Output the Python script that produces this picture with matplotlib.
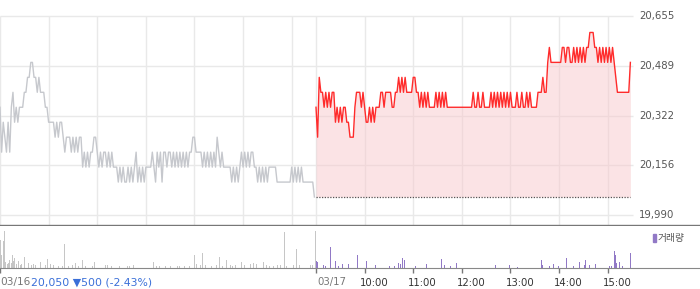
import numpy as np
import matplotlib.pyplot as plt

plt.rcParams['font.family'] = ['DejaVu Sans', 'Noto Sans CJK KR']

# price ticks (right side)
price_ticks = [20655, 20489, 20322, 20156, 19990]
prev_close = 20050

# 03/16 prices, one value every 2 minutes from 09:00
day1_prices = [
    20350, 20200, 20300, 20250, 20200, 20300, 20200, 20350,
    20400, 20300, 20350, 20300, 20350,
    20350, 20350, 20400, 20400, 20450, 20450,
    20500, 20500, 20450, 20450,
    20400, 20450, 20400, 20400, 20400, 20350, 20350, 20300, 20300, 20300, 20300,
    20250, 20300, 20250, 20300, 20300, 20250,
    20200, 20250, 20250, 20250, 20200, 20250, 20200, 20250, 20200, 20250, 20250,
    20150, 20200, 20150, 20200, 20150, 20200, 20200, 20250, 20250, 20200, 20150, 20200,
    20150, 20200, 20200, 20150, 20200, 20150,
    20200,
    20150, 20150, 20150,
    20100, 20150, 20100, 20150, 20100, 20100, 20150, 20100, 20150, 20100, 20150, 20200,
    20100, 20150, 20100, 20150, 20100, 20150, 20150,
    20150, 20150,
    20200, 20150, 20100, 20200, 20150, 20200, 20100,
    20200, 20200, 20150, 20200, 20200, 20150,
    20200, 20150, 20200, 20150, 20200, 20150, 20200, 20150, 20200, 20150, 20200, 20200,
    20250, 20250,
    20200, 20200, 20200, 20200,
    20150, 20200, 20150, 20200, 20150, 20200, 20150, 20200, 20150,
    20250,
    20200, 20150, 20200, 20150,
    20150, 20150, 20150, 20150,
    20100, 20150, 20100, 20150, 20100, 20150,
    20200, 20150, 20200, 20150, 20200, 20150, 20200, 20200, 20150, 20150,
    20100, 20150, 20100, 20150, 20100, 20150, 20100, 20150,
    20150, 20150, 20150, 20150,
    20100, 20100, 20100, 20100, 20100, 20100, 20100, 20100, 20100,
    20150, 20100, 20150, 20100, 20150, 20100, 20150,
    20100, 20100, 20100, 20100, 20100, 20100, 20100,
    20050,
]

# 03/17 prices, one value every 2 minutes from 09:00
day2_prices = [
    20350, 20250, 20450, 20400,
    20400, 20350, 20400, 20350, 20400, 20350,
    20400, 20400, 20300,
    20350, 20300, 20350, 20300, 20350, 20350,
    20300, 20300, 20250, 20250, 20250, 20350,
    20400, 20400, 20400, 20350, 20400, 20350, 20300, 20300,
    20350, 20300, 20350, 20300, 20350, 20350, 20350,
    20400, 20400, 20350, 20400, 20400, 20400, 20400,
    20350, 20350, 20400, 20400,
    20450, 20400, 20450, 20400, 20450, 20400,
    20400, 20400, 20400, 20450, 20450, 20400, 20400,
    20350, 20400, 20350, 20400, 20350, 20400, 20350,
    20350, 20350, 20350,
    20400, 20350, 20400, 20350, 20400, 20350, 20400,
    20350, 20350, 20350, 20350, 20350, 20350, 20350, 20350,
    20350, 20350, 20350, 20350, 20350, 20350, 20350, 20350,
    20400, 20350, 20350, 20400, 20350, 20350,
    20400, 20350, 20350, 20350, 20350,
    20400, 20350, 20400, 20350, 20400, 20350, 20400, 20350, 20400, 20350, 20400, 20350, 20400,
    20350, 20350, 20350,
    20400, 20350, 20350, 20400, 20350, 20350, 20400, 20350, 20400, 20350, 20350, 20350, 20350,
    20400, 20400, 20400,
    20450, 20400, 20400,
    20500, 20550, 20500,
    20500, 20500, 20500, 20500, 20500, 20500,
    20550, 20550, 20500, 20550, 20550,
    20500, 20500,
    20550, 20500, 20550, 20500, 20550, 20500, 20550, 20500, 20550,
    20550, 20600, 20600, 20600, 20550, 20550,
    20500, 20550, 20500, 20550, 20500, 20550, 20500, 20550, 20500, 20550,
    20500, 20450,
    20400, 20400, 20400, 20400, 20400, 20400, 20400, 20400,
    20500,
]

# volume: minute on the two-day axis (03/16 09:00 = 0, 03/17 09:00 = 390)
day1_vol_min = [0, 1, 2, 4, 6, 7, 9, 10, 12, 14, 15, 17, 18, 20, 23, 25, 27, 30, 32, 35,
                37, 39, 41, 44, 47, 50, 53, 56, 59, 62, 66, 69, 72, 74, 77, 80, 85, 89, 93,
                97, 102, 106, 111, 114, 117, 121, 126, 130, 133, 138, 142, 147, 153, 157,
                160, 165, 169, 174, 179, 184, 189, 193, 197, 200, 204, 210, 216, 219, 222,
                228, 234, 240, 243, 247, 250, 254, 258, 261, 264, 267, 271, 275, 280, 284,
                287, 291, 295, 298, 302, 306, 309, 313, 317, 321, 325, 329, 333, 338, 342,
                346, 351, 354, 358, 362, 366, 370, 374, 379, 383, 386, 389]
day1_vol = [2800, 2800, 1300, 2700, 3700, 600, 400, 500, 800, 500, 1300, 700, 1000, 400,
            700, 300, 400, 1100, 300, 500, 600, 300, 400, 300, 300, 600, 300, 300, 900,
            400, 300, 800, 200, 300, 200, 2400, 200, 300, 500, 200, 800, 200, 400, 200,
            600, 200, 900, 300, 300, 200, 700, 200, 400, 200, 200, 300, 600, 200, 600,
            200, 600, 200, 200, 200, 200, 200, 200, 200, 200, 200, 200, 1300, 400, 300,
            1500, 300, 900, 200, 400, 300, 1100, 200, 800, 300, 200, 300, 300, 600, 300,
            300, 400, 500, 400, 300, 600, 300, 200, 200, 300, 300, 3600, 200, 200, 300,
            1900, 300, 300, 1600, 300, 300, 3700]
day2_vol_min = [390, 391, 392, 395, 399, 402, 408, 414, 418, 423, 430, 437, 441, 448, 452,
                459, 463, 481, 487, 490, 492, 494, 497, 499, 501, 513, 526, 545, 549, 556,
                563, 612, 629, 639, 668, 670, 675, 678, 683, 689, 699, 708, 715, 721, 723,
                728, 735, 743, 748, 752, 755, 758, 760, 761, 764, 765, 768, 778]
day2_vol = [2300, 700, 600, 3100, 300, 200, 2100, 700, 200, 400, 400, 400, 1300, 200, 700,
            300, 300, 200, 200, 2700, 500, 400, 1000, 800, 300, 200, 400, 900, 300, 200,
            500, 300, 300, 100, 800, 300, 3100, 200, 400, 200, 1000, 200, 600, 300, 800,
            300, 400, 300, 200, 200, 200, 1700, 1300, 500, 300, 600, 200, 1500]

day2_ticks = ['03/17', '10:00', '11:00', '12:00', '13:00', '14:00', '15:00']

W, H = 700, 289
px_per_min = 316 / 390
fig = plt.figure(figsize=(W / 100, H / 100), dpi=100)
xmax = W / px_per_min
grid_end = 633 / px_per_min

# price panel
ax = fig.add_axes([0, 64 / H, 1, 225 / H])
scale = (20655 - 19990) / (215 - 16)
ax.set_ylim(19990 - 10 * scale, 20655 + 16 * scale)
ax.set_xlim(0, xmax)

t1 = np.arange(len(day1_prices)) * 2
t2 = 390 + np.arange(len(day2_prices)) * 2

ax.hlines(price_ticks, 0, grid_end, color='#e9e9e9', lw=1, zorder=1)
vgrid = [0] + list(range(60, 361, 60)) + list(range(390, 751, 60))
ax.vlines(vgrid, ax.get_ylim()[0], 20655, color='#e9e9e9', lw=1, zorder=1)

ax.fill_between(t2, prev_close, day2_prices, color='#f8c9cd', alpha=0.5, lw=0, zorder=2)
ax.plot([t2[0], t2[-1]], [prev_close, prev_close], color='#555555', lw=0.9,
        ls=(0, (1, 1.2)), zorder=3)
ax.plot(t1, day1_prices, color='#c6c8cd', lw=1, zorder=3)
ax.plot(t2, day2_prices, color='#ff2b2b', lw=1, zorder=4)

for v in price_ticks:
    ax.text(639.3 / px_per_min, v, f'{v:,}', ha='left', va='center',
            fontsize=7.3, color='#555555')

ax.set_xticks([])
ax.set_yticks([])
for s in ['top', 'left', 'right']:
    ax.spines[s].set_visible(False)
ax.spines['bottom'].set_color('#777777')
ax.spines['bottom'].set_linewidth(1)

# volume panel
axv = fig.add_axes([0, 21 / H, 1, 42 / H])
axv.set_xlim(0, xmax)
axv.set_ylim(0, 4200)
axv.bar(day1_vol_min, day1_vol, width=1.0, color='#c6c6c6', lw=0)
axv.bar(day2_vol_min, day2_vol, width=1.0, color='#9179c6', lw=0)
for s in ['top', 'left', 'right']:
    axv.spines[s].set_visible(False)
axv.spines['bottom'].set_color('#888888')
axv.set_yticks([])
axv.set_xticks([0] + list(range(390, 751, 60)))
axv.set_xticklabels([])
axv.tick_params(axis='x', length=3.5, width=1, color='#777777', direction='out')

# legend
fig.patches.append(plt.Rectangle((652.7 / W, (H - 242) / H), 3.3 / W, 8 / H,
                                 transform=fig.transFigure, color='#9179c6'))
fig.text(658 / W, (H - 238) / H, '거래량', ha='left', va='center', fontsize=7,
         color='#555555')

# bottom labels
ty = (H - 282.5) / H
fig.text(0, ty, '03/16', ha='left', va='center', fontsize=7.6, color='#777777')
fig.text(31 / W, ty, '20,050 \u25bc500 (-2.43%)', ha='left', va='center',
         fontsize=7.8, color='#3a6fd8')
for k, lab in enumerate(day2_ticks):
    x_px = (390 + 60 * k) * px_per_min
    if k == 0:
        fig.text((x_px + 1) / W, ty, lab, ha='left', va='center', fontsize=7.3,
                 color='#777777')
    else:
        fig.text((x_px - 5) / W, ty, lab, ha='left', va='center', fontsize=7.3,
                 color='#333333')

fig.savefig('out.png', dpi=100)
